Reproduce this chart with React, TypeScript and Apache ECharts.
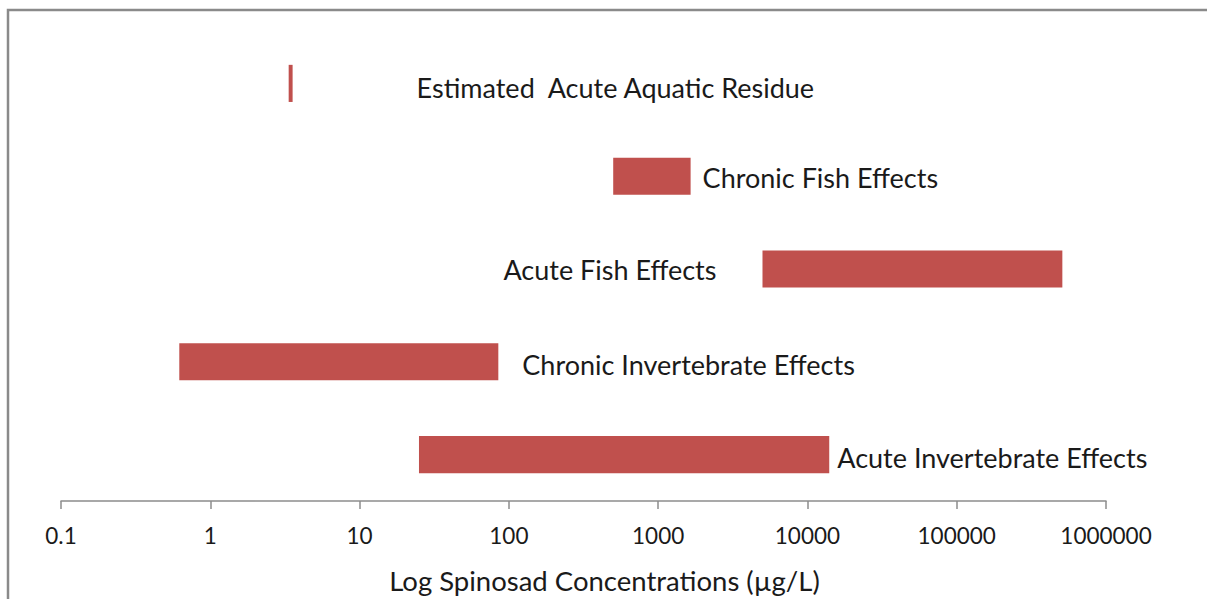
import React, { useEffect, useRef } from "react";
import * as echarts from "echarts";

// ---- data ----
const categories = [
  "Acute Invertebrate Effects",
  "Chronic Invertebrate Effects",
  "Acute Fish Effects",
  "Chronic Fish Effects",
  "Estimated  Acute Aquatic Residue",
];
const lowValues = [25, 0.62, 5000, 500, 3.35];
const highValues = [14000, 85, 510000, 1650, 3.56];
const tickLabels = ["0.1", "1", "10", "100", "1000", "10000", "100000", "1000000"];
const axisTitle = "Log Spinosad Concentrations (µg/L)";

// ---- label placement (style) ----
const labelSide = ["right", "right", "left", "right", "right"];
const labelGap = [8, 24, 46, 12, 124];
const labelDy = [3, 3, 0, 1, 4];

const FONT = "Lato, 'Liberation Sans', sans-serif";
const BAR = "#C0504D";

export default function App() {
  const ref = useRef<HTMLDivElement>(null);
  useEffect(() => {
    if (!ref.current) return;
    const chart = echarts.init(ref.current, undefined, { renderer: "svg" });
    const data = categories.map((_, i) => [i, lowValues[i], highValues[i]]);
    chart.setOption({
      animation: false,
      backgroundColor: "#ffffff",
      grid: { left: 61, right: 101, top: 37, bottom: 95 },
      xAxis: {
        type: "log",
        logBase: 10,
        min: 0.1,
        max: 1000000,
        name: axisTitle,
        nameLocation: "middle",
        nameGap: 79,
        nameTextStyle: {
          fontFamily: FONT,
          fontSize: 27.5,
          color: "#1a1a1a",
          verticalAlign: "middle",
          padding: [0, 0, 0, 42],
        },
        axisLine: { show: true, lineStyle: { color: "#8c8c8c", width: 1.5 } },
        axisTick: { show: true, length: 8, lineStyle: { color: "#8c8c8c", width: 1.5 } },
        splitLine: { show: false },
        minorTick: { show: false },
        axisLabel: {
          margin: 23,
          fontFamily: FONT,
          fontSize: 22.5,
          color: "#1a1a1a",
          formatter: (v: number) => {
            const idx = Math.round(Math.log10(v)) + 1;
            return tickLabels[idx] ?? "";
          },
        },
      },
      yAxis: {
        type: "category",
        data: categories,
        show: false,
      },
      graphic: [
        {
          type: "polyline",
          shape: { points: [[8, 599], [8, 10], [1207, 10]] },
          style: { stroke: "#8a8a8a", lineWidth: 2.5, fill: "none" },
          silent: true,
        },
      ],
      series: [
        {
          type: "custom",
          data,
          encode: { x: [1, 2], y: 0 },
          renderItem: (params: any, api: any) => {
            const cat = api.value(0);
            const lo = api.value(1);
            const hi = api.value(2);
            const s = api.coord([lo, cat]);
            const e = api.coord([hi, cat]);
            const band = Math.abs(api.coord([1, 1])[1] - api.coord([1, 0])[1]);
            const h = band * 0.4;
            const i = params.dataIndex;
            const right = labelSide[i] === "right";
            return {
              type: "group",
              children: [
                {
                  type: "rect",
                  shape: { x: s[0], y: s[1] - h / 2, width: e[0] - s[0], height: h },
                  style: { fill: BAR },
                },
                {
                  type: "text",
                  x: right ? e[0] + labelGap[i] : s[0] - labelGap[i],
                  y: s[1] + labelDy[i],
                  style: {
                    text: categories[i],
                    fill: "#1a1a1a",
                    fontFamily: FONT,
                    fontSize: 27,
                    align: right ? "left" : "right",
                    verticalAlign: "middle",
                  },
                },
              ],
            };
          },
        },
      ],
    });
    return () => chart.dispose();
  }, []);
  return (
    <div
      ref={ref}
      style={{ position: "fixed", left: 0, top: 0, width: 1207, height: 599 }}
    />
  );
}
